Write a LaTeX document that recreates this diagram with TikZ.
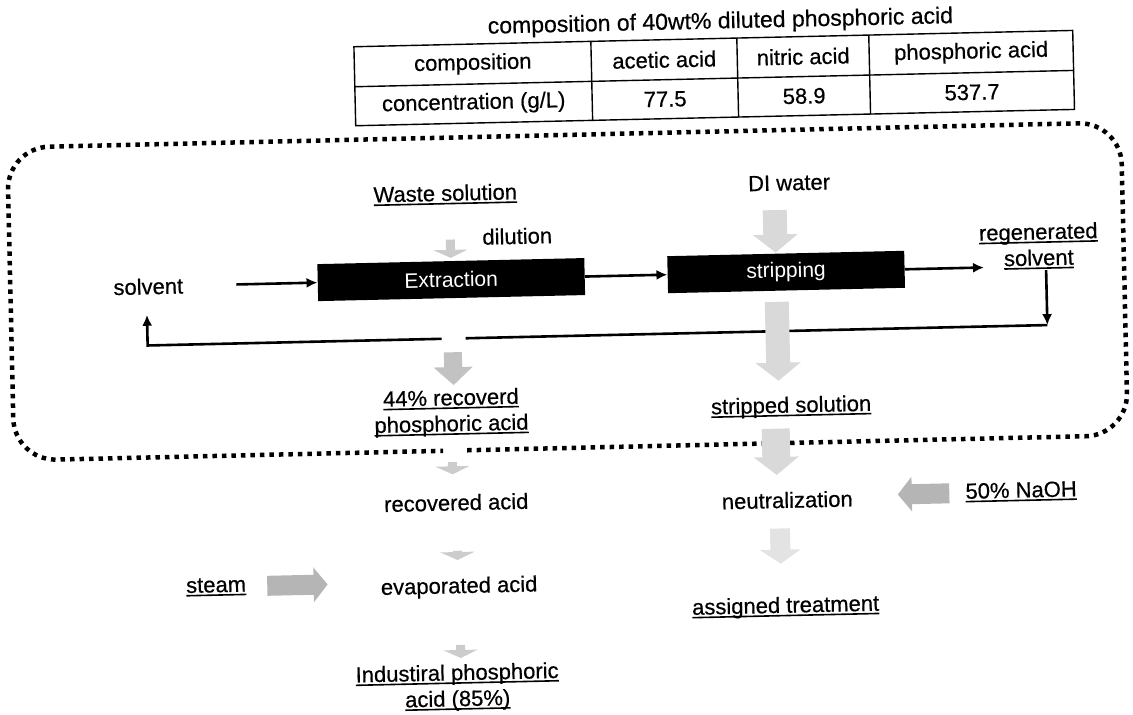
\documentclass[tikz,border=0pt]{standalone}
\usepackage{fontspec}
\setmainfont{Liberation Sans}[FakeBold=0.5]
\newfontfamily\boxfont{Liberation Sans}
\usetikzlibrary{positioning, calc, arrows.meta}

\newcommand{\undl}[1]{\leavevmode\setbox0\hbox{#1}\rlap{\vrule width\wd0 height -2pt depth 3.6pt}\box0}

\tikzset{
    lbl/.style={font=\fontsize{22}{26}\selectfont, inner sep=1pt, align=center},
    cell/.style={font=\fontsize{22}{26}\selectfont, inner sep=0pt},
    unit/.style={rectangle, fill=black, text=white, minimum width=267pt, minimum height=37pt, inner sep=0pt, font=\boxfont\fontsize{21}{25}\selectfont},
    tabline/.style={line width=1.4pt},
    flow/.style={-{Latex[length=11pt,width=10pt]}, line width=2.6pt},
    ret/.style={line width=2.6pt},
    fat/.style={line width=24pt, draw=gray!30, -{Triangle[length=18pt,width=44pt]}},
    pale/.style={line width=20pt, draw=gray!22, -{Triangle[length=14pt,width=40pt]}},
    mid/.style={line width=18pt, draw=gray!48, -{Triangle[length=18pt,width=38pt]}},
    chev/.style={line width=9pt, draw=gray!40, -{Triangle[length=8pt,width=34pt]}},
    dark/.style={line width=20pt, draw=gray!58, -{Triangle[length=14pt,width=34pt]}},
    dotline/.style={line width=4.5pt, dash pattern=on 4.5pt off 5pt, rounded corners=42pt},
}

\begin{document}
\begin{tikzpicture}[x=1pt, y=-1pt]
\useasboundingbox (0,0) rectangle (1133,715);
\begin{scope}[rotate around={1.3:(566,357)}, transform shape]

% composition table
\node[font=\fontsize{23}{27}\selectfont, inner sep=0pt] (title) at (728,26) {composition of 40wt\% diluted phosphoric acid};
\draw[tabline] (361,42) rectangle (1080,121);
\draw[tabline] (361,82) -- (1080,82);
\foreach \cx in {598,744,876}
    \draw[tabline] (\cx,42) -- (\cx,121);
\node[cell] (hcomp) at (479.5,62) {composition};
\node[cell] (hacet) at (671,62) {acetic acid};
\node[cell] (hnitr) at (810,62) {nitric acid};
\node[cell] (hphos) at (978,62) {phosphoric acid};
\node[cell] (vconc) at (479.5,101.5) {concentration (g/L)};
\node[cell] (vacet) at (671,101.5) {77.5};
\node[cell] (vnitr) at (810,101.5) {58.9};
\node[cell] (vphos) at (978,101.5) {537.7};

% dotted frame, open where the raffinate leaves
\draw[dotline] (465,448) -- (1126,448) -- (1126,135) -- (12,135) -- (12,448) -- (441,448);

% extraction / stripping loop
\node[lbl] (waste) at (449,192) {\undl{Waste solution}};
\node[lbl] (dil) at (520,235) {dilution};
\node[lbl] (solv) at (150,277) {solvent};
\node[unit] (ext) at (453,277) {Extraction};
\node[unit, minimum width=237pt] (strip) at (788,277) {stripping};
\node[lbl] (diw) at (793,188) {DI water};
\node[lbl] (regen) at (1041,257) {\undl{regenerated}\\\undl{solvent}};

\coordinate (rin) at (986,277);
\coordinate (rc) at (1048,336);
\coordinate (gr) at (466,336);
\coordinate (gl) at (442,336);
\coordinate (lc) at (148,336);

\draw[flow] ([xshift=52pt]solv.east) -- (ext.west);
\draw[flow] (ext.east) -- (strip.west);
\draw[flow] (strip.east) -- (rin);
\draw[flow] (rc |- regen.south) -- (rc);
\draw[ret] (rc) -- (gr);
\draw[flow] (gl) -- (lc) -- ([yshift=-19pt]lc |- solv.south);

% products
\node[lbl] (recov) at (450,410) {\undl{44\% recoverd}\\\undl{phosphoric acid}};
\node[lbl] (strsol) at (790,412) {\undl{stripped solution}};
\node[lbl] (neut) at (784,505) {neutralization};
\node[lbl] (naoh) at (1018,502) {\undl{50\% NaOH}};
\node[lbl] (assign) at (780,612) {\undl{assigned treatment}};
\node[lbl] (racid) at (453,500) {recovered acid};
\node[lbl] (evap) at (454,585) {evaporated acid};
\node[lbl] (steam) at (211,579) {\undl{steam}};
\node[lbl] (indus) at (450,685) {\undl{Industiral phosphoric}\\\undl{acid (85\%)}};

% grey block arrows
\draw[chev, shorten <=34pt, shorten >=3pt] (ext.north |- waste.south) -- (ext.north);
\draw[fat, shorten <=18pt, shorten >=1pt] ([xshift=-10pt]strip.north |- diw.south) -- ([xshift=-10pt]strip.north);
\draw[fat, shorten <=11pt, shorten >=15pt] ([xshift=-10pt]strip.south) -- ([xshift=-10pt]strip.south |- strsol.north);
\draw[mid, shorten <=54pt, shorten >=3pt] (ext.south) -- (ext.south |- recov.north);
\draw[fat, line width=28pt, shorten <=10pt, shorten >=16pt] ([xshift=-16pt]strsol.south) -- ([xshift=-16pt]strsol.south |- neut.north);
\draw[pale, shorten <=19pt, shorten >=32pt] ([xshift=-8pt]neut.south) -- ([xshift=-8pt]neut.south |- assign.north);
\draw[dark, shorten <=15pt, shorten >=44pt] (naoh.west) -- (naoh.west -| neut.east);
\draw[dark, shorten <=20pt, shorten >=52pt] (steam.east) -- (steam.east -| evap.west);
\draw[chev, shorten <=25pt, shorten >=19pt] (recov.south) -- (recov.south |- racid.north);
\draw[chev, shorten <=39pt, shorten >=16pt] (racid.south) -- (racid.south |- evap.north);
\draw[chev, shorten <=46pt, shorten >=5pt] (evap.south) -- (evap.south |- indus.north);

\end{scope}
\end{tikzpicture}
\end{document}
